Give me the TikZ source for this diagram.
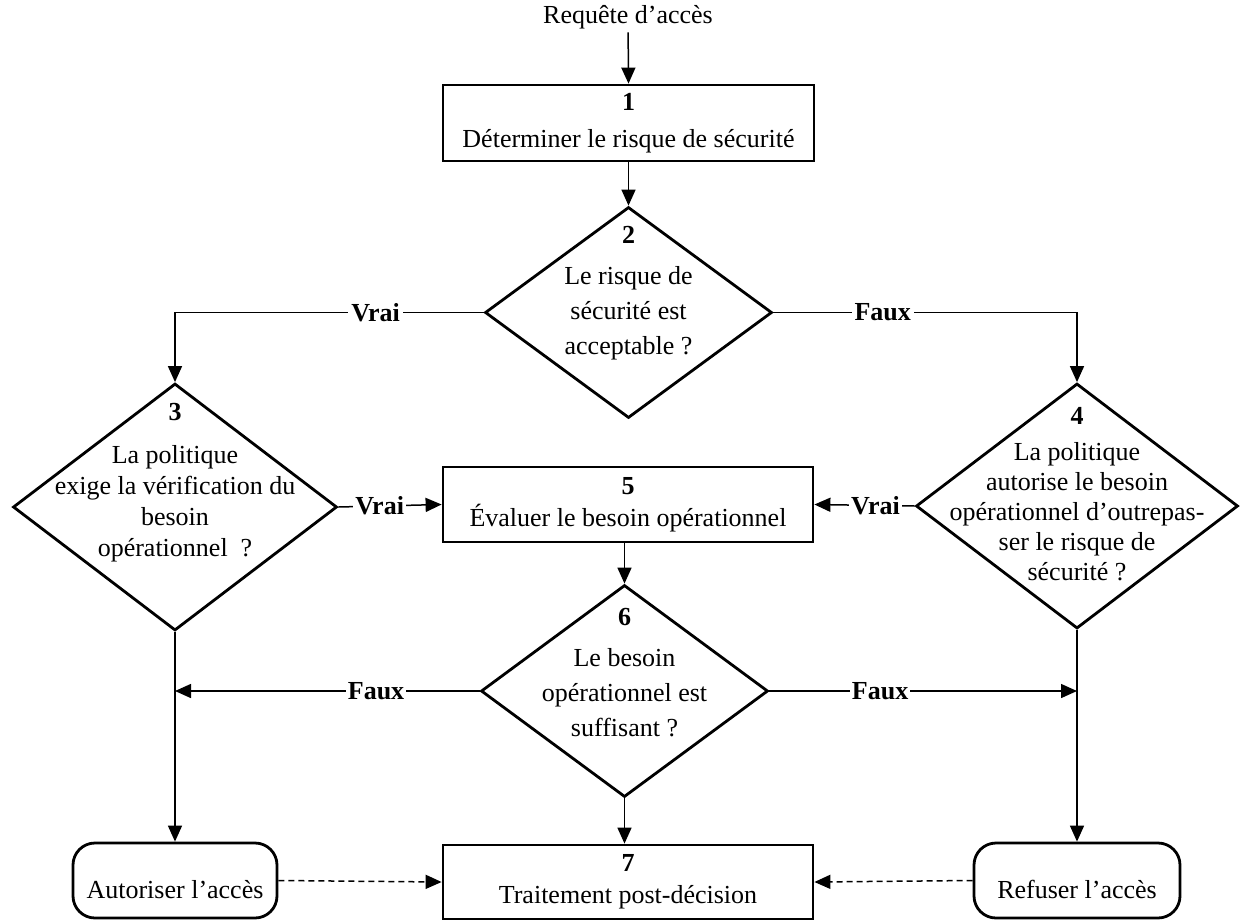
\documentclass[tikz,border=0pt]{standalone}
\usepackage{fontspec}
\setmainfont{Liberation Serif}
\usetikzlibrary{shapes.geometric,arrows.meta}
\begin{document}
\begin{tikzpicture}[x=1pt,y=-1pt,
  every node/.style={font=\fontsize{26}{35}\selectfont},
  proc/.style={draw,line width=2.8pt,rectangle,inner sep=0pt,align=center},
  decision/.style={draw,line width=2.8pt,diamond,inner sep=0pt},
  term/.style={draw,line width=2.8pt,rectangle,rounded corners=22pt,inner sep=0pt},
  flow/.style={line width=1.5pt,-{Triangle[length=16pt,width=14pt]}},
  dashflow/.style={flow,dash pattern=on 6pt off 4pt},
  lbl/.style={fill=white,inner sep=3pt,font=\fontsize{26}{35}\selectfont\bfseries},
]
\useasboundingbox (0,0) rectangle (1241,921);

% entry
\node (req) at (628,17) {Requête d’accès};

% steps
\node[proc,minimum width=371pt,minimum height=76pt] (s1) at (628.5,123)
  {\textbf{1}\\[2pt]Déterminer le risque de sécurité};

\node[decision,minimum width=287pt,minimum height=211pt] (s2) at (628.5,312.5) {};
\node[align=center] (t2) at ([yshift=19pt]s2.center)
  {\textbf{2}\\[6pt]Le risque de\\sécurité est\\acceptable ?};

\node[decision,minimum width=324pt,minimum height=247pt] (s3) at (175,507) {};
\node[align=center,font=\fontsize{26}{31}\selectfont] (t3) at ([yshift=24pt]s3.center)
  {\textbf{3}\\[12pt]La politique\\exige la vérification du\\besoin\\opérationnel\ \ ?};

\node[decision,minimum width=322pt,minimum height=245pt] (s4) at (1077,506) {};
\node[align=center,font=\fontsize{26}{30}\selectfont] (t4) at ([yshift=12pt]s4.center)
  {\textbf{4}\\[6pt]La politique\\autorise le besoin\\opérationnel d’outrepas-\\ser le risque de\\sécurité ?};

\node[proc,minimum width=370pt,minimum height=75pt] (s5) at (628,504.5)
  {\textbf{5}\\[-3pt]Évaluer le besoin opérationnel};

\node[decision,minimum width=287pt,minimum height=212pt] (s6) at (624.5,691) {};
\node[align=center] (t6) at ([yshift=18.5pt]s6.center)
  {\textbf{6}\\[6pt]Le besoin\\opérationnel est\\suffisant ?};

\node[proc,minimum width=370pt,minimum height=74pt] (s7) at (628,882)
  {\textbf{7}\\[-3pt]Traitement post-décision};

% outcomes
\node[term,minimum width=204pt,minimum height=75pt] (allow) at (175,880.5) {};
\node (tallow) at ([yshift=-9pt]allow.center) {Autoriser l’accès};
\node[term,minimum width=206pt,minimum height=75pt] (deny) at (1077,880.5) {};
\node (tdeny) at ([yshift=-9pt]deny.center) {Refuser l’accès};

% junctions on the outcome lines
\coordinate (jl) at (s3.south |- s6.west);
\coordinate (jr) at (s4.south |- s6.east);

% connectors
\draw[flow] (req) -- (s1.north);
\draw[flow] (s1.south) -- (s2.north);
\draw[flow] (s2.west) -- node[lbl,pos=0.35]{Vrai} (s2.west -| s3.north) -- (s3.north);
\draw[flow] (s2.east) -- node[lbl,pos=0.36]{Faux} (s2.east -| s4.north) -- (s4.north);
\draw[flow] (s3.east) -- node[lbl,pos=0.4,inner sep=2pt]{Vrai} (s5.west);
\draw[flow] (s4.west) -- node[lbl,pos=0.39,inner sep=2pt]{Vrai} (s5.east);
\draw[flow] (s5.south -| s6.north) -- (s6.north);
\draw[flow] (s6.west) -- node[lbl,pos=0.34,inner sep=2pt]{Faux} (jl);
\draw[flow] (s6.east) -- node[lbl,pos=0.36,inner sep=2pt]{Faux} (jr);
\draw[flow] (s3.south) -- (allow.north);
\draw[flow] (s4.south) -- (deny.north);
\draw[flow] (s6.south) -- (s6.south |- s7.north);
\draw[dashflow] (allow.east) -- (s7.west);
\draw[dashflow] (deny.west) -- (s7.east);
\end{tikzpicture}
\end{document}
